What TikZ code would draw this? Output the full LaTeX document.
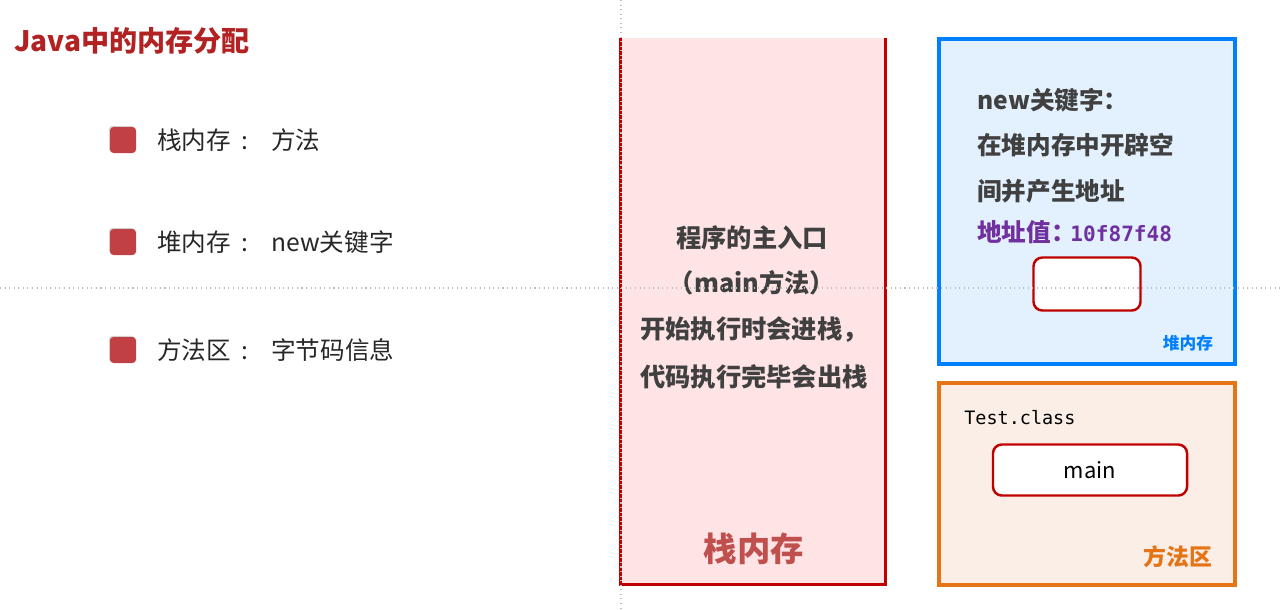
\documentclass[tikz,border=0pt]{standalone}
\usepackage{fontspec}
\setmainfont{Noto Sans CJK SC}
\setmonofont{DejaVu Sans Mono}
\usetikzlibrary{shadows}

\definecolor{titlered}{RGB}{178,34,34}
\definecolor{bulletred}{RGB}{192,64,68}
\definecolor{itemgray}{RGB}{38,38,38}
\definecolor{textgray}{RGB}{64,64,64}
\definecolor{stackfill}{RGB}{255,228,230}
\definecolor{stackline}{RGB}{192,0,0}
\definecolor{stacklabel}{RGB}{192,80,77}
\definecolor{heapfill}{RGB}{227,241,254}
\definecolor{heapline}{RGB}{0,128,255}
\definecolor{addrpurple}{RGB}{112,48,160}
\definecolor{methodfill}{RGB}{251,238,230}
\definecolor{methodline}{RGB}{230,115,20}
\definecolor{guidegray}{RGB}{190,190,190}

\newcommand{\listcolon}{\hspace{6pt}:\hspace{13pt}}

\begin{document}
\begin{tikzpicture}[
        x=0.02cm, y=-0.02cm,
        every node/.style={
            inner sep=0pt, font=\fontsize{14pt}{16pt}\selectfont
        },
        bullet/.style={
            minimum size=26*0.02cm, fill=bulletred, rounded corners=2pt,
            drop shadow={shadow xshift=-0.6pt, shadow yshift=0.6pt, fill=gray!45, opacity=0.8}
        },
        item/.style={anchor=west, text=itemgray},
        stacktext/.style={font=\fontsize{14.4pt}{16pt}\selectfont\bfseries, text=textgray},
        heaptext/.style={anchor=west, font=\fontsize{14pt}{16pt}\selectfont\bfseries, text=textgray},
        slot/.style={draw=stackline, line width=1.4pt, fill=white, rounded corners=5pt}
    ]
        \useasboundingbox (0,0) rectangle (1280,609);

        % Title and list
        \node[anchor=west, text=titlered, font=\fontsize{16pt}{18pt}\selectfont\bfseries] (title) at (14,41) {Java中的内存分配};

        \node[bullet] (b1) at (123,140) {};
        \node[item] (i1) at (157,140) {栈内存\listcolon 方法};

        \node[bullet] (b2) at (123,242) {};
        \node[item] (i2) at (157,242) {堆内存\listcolon new关键字};

        \node[bullet] (b3) at (123,350) {};
        \node[item] (i3) at (157,350) {方法区\listcolon 字节码信息};

        % Stack
        \fill[stackfill] (620,38) rectangle (885,584);
        \draw[stackline, line width=1.7pt] (620,38) -- (620,584) -- (885,584) -- (885,38);

        \node[stacktext] (s1) at (752,238) {程序的主入口};
        \node[stacktext] (s2) at (752,283) {（main方法）};
        \node[stacktext] (s3) at (754,330) {开始执行时会进栈，};
        \node[stacktext] (s4) at (754,377) {代码执行完毕会出栈};
        \node[text=stacklabel, font=\fontsize{19pt}{21pt}\selectfont\bfseries] (stacklbl) at (754,549) {栈内存};

        % Heap
        \draw[heapline, fill=heapfill, line width=2.3pt] (939,39) rectangle (1235,364);

        \node[heaptext] (h1) at (977,100) {new关键字：};
        \node[heaptext] (h2) at (977,145) {在堆内存中开辟空};
        \node[heaptext] (h3) at (977,191) {间并产生地址};
        \node[heaptext, text=addrpurple] (h4) at (977,232) {地址值：\hspace{-3pt}{\ttfamily\fontsize{12pt}{14pt}\selectfont\bfseries 10f87f48}};

        \node[slot, minimum width=107*0.02cm, minimum height=53*0.02cm] (obj) at (1087,284) {};
        \node[text=heapline, font=\fontsize{9.5pt}{11pt}\selectfont\bfseries] (heaplbl) at (1188,343) {堆内存};

        % Method area
        \draw[methodline, fill=methodfill, line width=2.3pt] (939,383) rectangle (1235,585);

        \node[anchor=west, font=\ttfamily\fontsize{10.5pt}{12pt}\selectfont] (cls) at (964,418) {Test.class};
        \node[slot, minimum width=194*0.02cm, minimum height=51*0.02cm, font=\fontsize{12.5pt}{14pt}\selectfont] (mainbox) at (1090,470) {main};
        \node[text=methodline, font=\fontsize{13pt}{15pt}\selectfont\bfseries] (methodlbl) at (1178,557) {方法区};

        % Guides
        \draw[guidegray, dotted, line width=0.6pt] (621,0) -- (621,609);
        \draw[guidegray, dotted, line width=0.6pt] (0,288) -- (1280,288);
    \end{tikzpicture}
\end{document}
